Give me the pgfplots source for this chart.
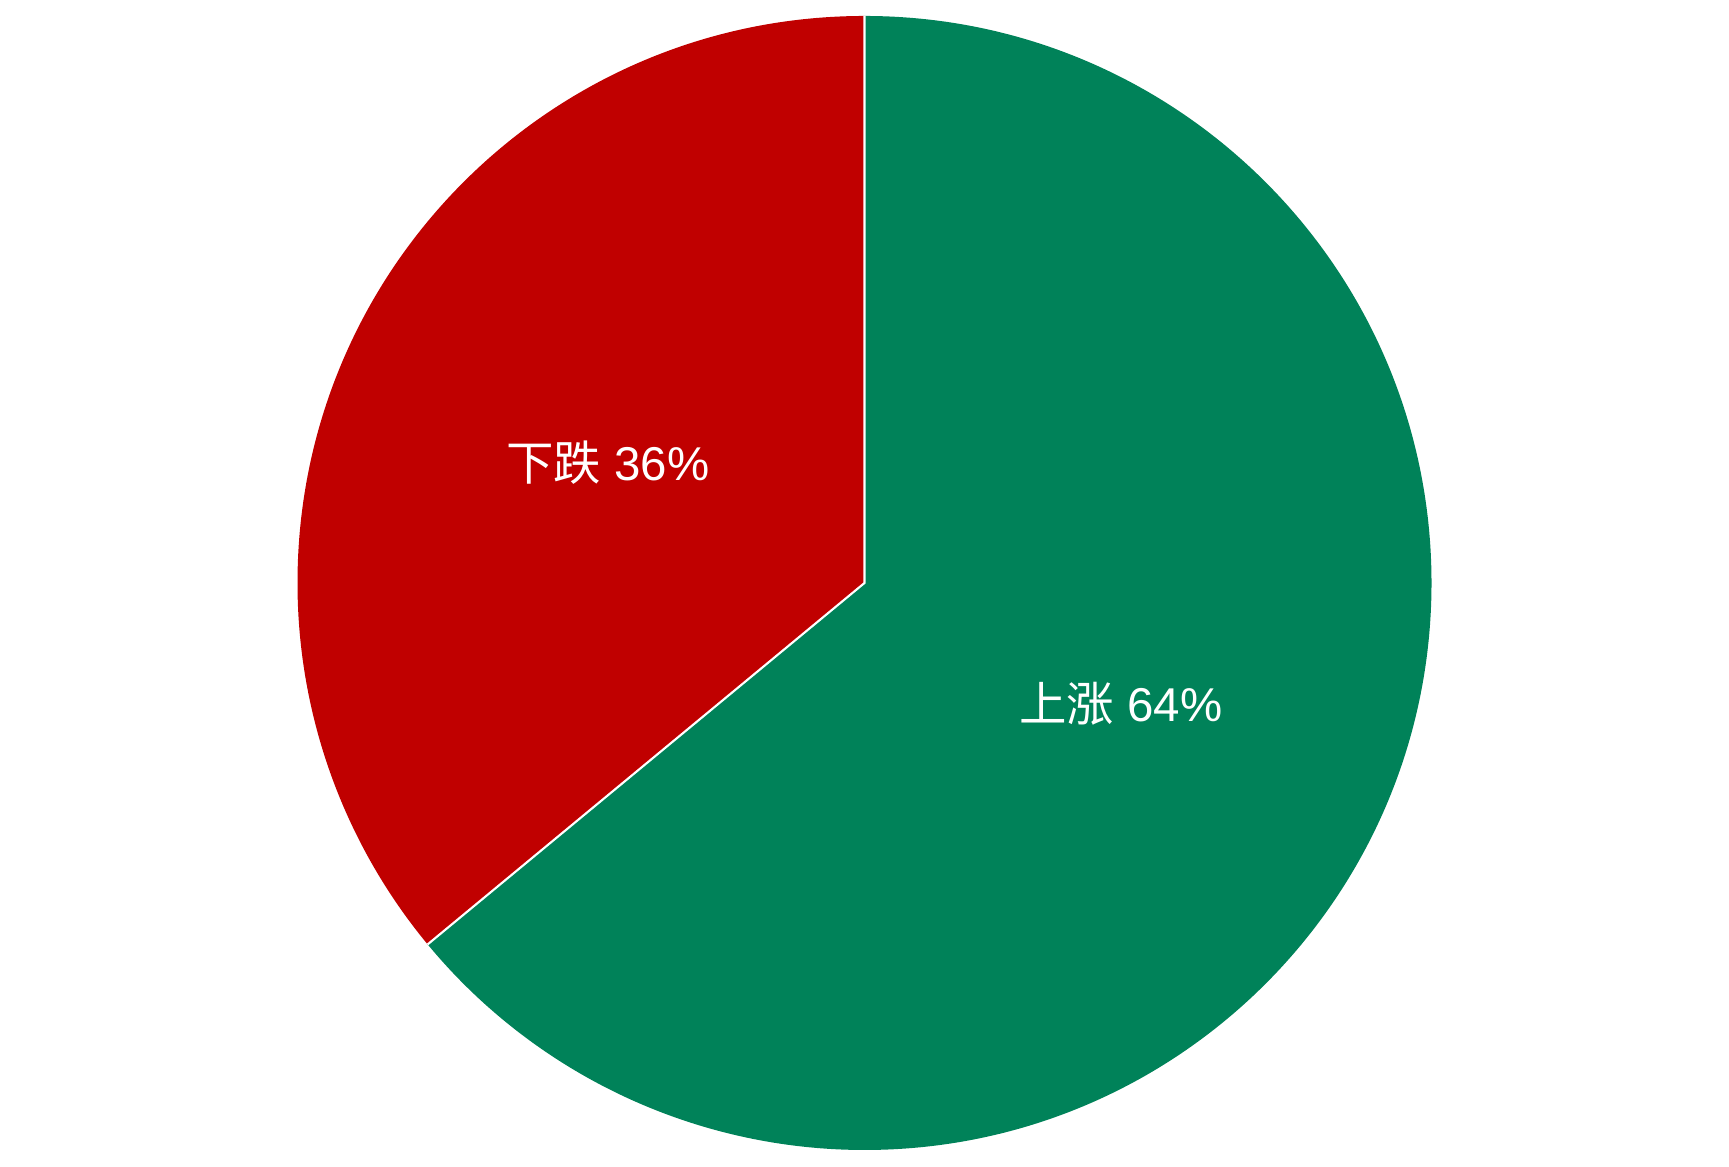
\documentclass[border=0pt]{standalone}
\usepackage{pgfplots}
\usepackage{pgfplotstable}
\pgfplotsset{compat=1.18}
\usepackage{fontspec}
\setmainfont{Liberation Sans}
\newfontfamily\cjk{Noto Sans CJK SC}
\definecolor{upgreen}{RGB}{0,130,89}
\definecolor{downred}{RGB}{192,0,0}
\pgfplotstableread{
label value
up 64
down 36
}\piedata
\begin{document}%
\begin{tikzpicture}
\pgfplotstablegetelem{0}{value}\of\piedata \let\upval\pgfplotsretval
\pgfplotstablegetelem{1}{value}\of\piedata \let\downval\pgfplotsretval
\pgfmathsetmacro{\total}{\upval+\downval}
\pgfmathsetmacro{\upshare}{\upval/\total}
\pgfmathsetmacro{\downshare}{\downval/\total}
\pgfmathsetmacro{\aend}{90-360*\upshare}
\pgfmathsetmacro{\upmid}{(90+\aend)/2}
\pgfmathsetmacro{\downmid}{(\aend+360+90)/2}
\pgfmathtruncatemacro{\upfrac}{round(100*\upshare)}
\pgfmathtruncatemacro{\downfrac}{round(100*\downshare)}
\begin{axis}[
  x=5.67cm, y=5.67cm,
  xmin=-1.5247, xmax=1.5247,
  ymin=-1.0300, ymax=1.0282,
  hide axis,
  clip=false,
]
\path (axis cs:-1.5247,-1.0300) rectangle (axis cs:1.5247,1.0282);
\fill[upgreen] (axis cs:0,0) -- (axis cs:0,1) arc[start angle=90, end angle=\aend, radius=5.67cm] -- cycle;
\fill[downred] (axis cs:0,0) -- (axis cs:0,1) arc[start angle=90, end angle=\aend+360, radius=5.67cm] -- cycle;
\draw[white, line width=0.6pt] (axis cs:0,1) -- (axis cs:0,0) -- (axis cs:{cos(\aend)},{sin(\aend)});
\node[white, font=\fontsize{13.5}{16}\selectfont] at (axis cs:{0.5*cos(\upmid)},{0.5*sin(\upmid)}) {{\cjk 上涨} \upfrac\%};
\node[white, font=\fontsize{13.5}{16}\selectfont] at (axis cs:{0.5*cos(\downmid)},{0.5*sin(\downmid)}) {{\cjk 下跌} \downfrac\%};
\end{axis}
\end{tikzpicture}%
\end{document}
